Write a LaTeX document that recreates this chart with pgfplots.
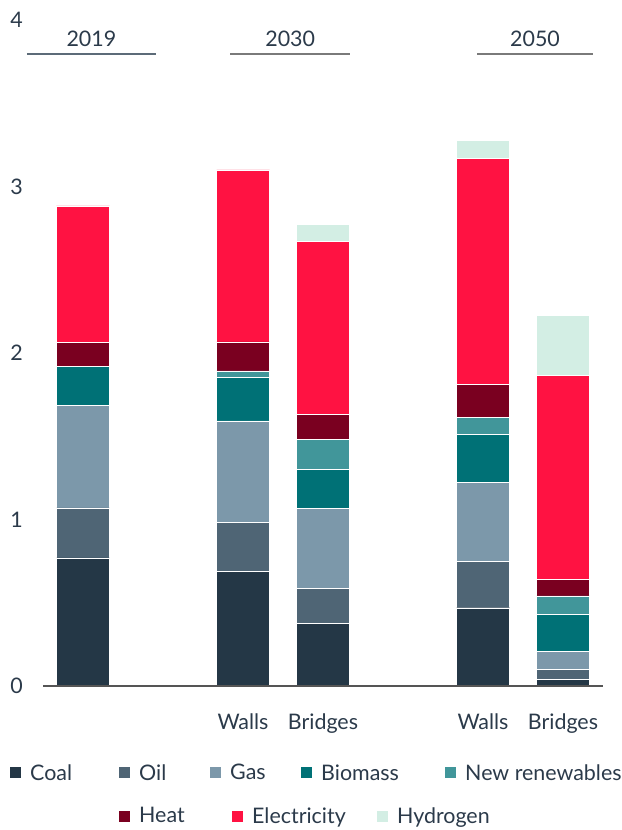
\documentclass[border=0pt]{standalone}
\usepackage{pgfplots}
\pgfplotsset{compat=1.18}
\usepackage{fontspec}
\setmainfont{Lato}
\definecolor{coal}{HTML}{243746}
\definecolor{oil}{HTML}{4F6575}
\definecolor{gas}{HTML}{7C98AA}
\definecolor{biomass}{HTML}{007176}
\definecolor{newren}{HTML}{41969A}
\definecolor{heat}{HTML}{7A0020}
\definecolor{elec}{HTML}{FF1242}
\definecolor{hydro}{HTML}{D3EEE4}
\definecolor{txt}{HTML}{2B3A4A}
\definecolor{axgray}{HTML}{555555}
\definecolor{hdrA}{HTML}{5C6B78}
\definecolor{hdrB}{HTML}{7A7A7A}
\pgfplotsset{
  sqlegend/.style={legend image code/.code={\path[##1,draw=none] (0bp,-5.5bp) rectangle (11bp,5.5bp);}},
}
\begin{document}
\begin{tikzpicture}[font=\fontsize{21.5}{25}\selectfont, text=txt]
\begin{axis}[name=ax, scale only axis, width=560bp, height=666bp,
  xmin=-0.5, xmax=6.5, ymin=0, ymax=4,
  ybar stacked, bar width=53bp,
  sqlegend,
  axis on top,
  axis x line=bottom, axis y line=left,
  x axis line style={-, draw=axgray, line width=1.5bp},
  y axis line style={draw=none},
  tick style={draw=none},
  xtick={2,3,5,6}, xticklabels={Walls,Bridges,Walls,Bridges},
  ytick={0,1,2,3,4},
  xticklabel style={anchor=base, inner sep=0pt, yshift=-41bp, text=txt},
  yticklabel style={anchor=east, inner sep=0pt, xshift=-18bp, text=txt},
  /pgf/number format/assume math mode=true,
  clip=false,
  legend columns=5,
  legend style={at={(axis description cs:-0.0589,-0.1306)}, anchor=west,
    draw=none, fill=none, inner sep=0pt, column sep=0pt,
    /tikz/every odd column/.append style={column sep=9bp},
    nodes={inner sep=0pt, text=txt}},
]
\addplot[fill=coal, draw=white, line width=0.4bp] coordinates {(0,0.77) (2,0.69) (3,0.376) (5,0.47) (6,0.039)};
\addplot[fill=oil, draw=white, line width=0.4bp] coordinates {(0,0.30) (2,0.292) (3,0.211) (5,0.278) (6,0.061)};
\addplot[fill=gas, draw=white, line width=0.4bp] coordinates {(0,0.614) (2,0.61) (3,0.481) (5,0.477) (6,0.109)};
\addplot[fill=biomass, draw=white, line width=0.4bp] coordinates {(0,0.235) (2,0.261) (3,0.232) (5,0.285) (6,0.221)};
\addplot[fill=newren, draw=white, line width=0.4bp] coordinates {(0,0) (2,0.04) (3,0.18) (5,0.105) (6,0.112)};
\addplot[fill=heat, draw=white, line width=0.4bp] coordinates {(0,0.145) (2,0.174) (3,0.152) (5,0.195) (6,0.097)};
\addplot[fill=elec, draw=white, line width=0.4bp] coordinates {(0,0.819) (2,1.033) (3,1.039) (5,1.36) (6,1.225)};
\addplot[fill=hydro, draw=white, line width=0.4bp] coordinates {(0,0) (2,0) (3,0.10) (5,0.106) (6,0.361)};
\legend{\makebox[89bp][l]{Coal},\makebox[71bp][l]{Oil},\makebox[71bp][l]{Gas},\makebox[124bp][l]{Biomass},New renewables}
\draw[hdrA, line width=2bp] (axis cs:-0.70,3.796) -- (axis cs:0.91,3.796);
\draw[hdrB, line width=2bp] (axis cs:1.84,3.796) -- (axis cs:3.34,3.796);
\draw[hdrB, line width=2bp] (axis cs:4.93,3.796) -- (axis cs:6.375,3.796);
\node at (axis cs:0.105,3.886) {2019};
\node at (axis cs:2.59,3.886) {2030};
\node at (axis cs:5.65,3.886) {2050};
\end{axis}
\begin{axis}[scale only axis, width=560bp, height=666bp,
  xmin=-0.5, xmax=6.5, ymin=0, ymax=4, hide axis,
  sqlegend,
  legend columns=3,
  legend style={at={(axis description cs:0.1357,-0.1952)}, anchor=west,
    draw=none, fill=none, inner sep=0pt, column sep=0pt,
    /tikz/every odd column/.append style={column sep=9bp},
    nodes={inner sep=0pt, text=txt}},
]
\addlegendimage{fill=heat}
\addlegendentry{\makebox[93bp][l]{Heat}}
\addlegendimage{fill=elec}
\addlegendentry{\makebox[125bp][l]{Electricity}}
\addlegendimage{fill=hydro}
\addlegendentry{Hydrogen}
\end{axis}
\path (ax.south west) ++(-43bp,-144bp) rectangle ([shift={(19bp,20bp)}]ax.north east);
\end{tikzpicture}
\end{document}
